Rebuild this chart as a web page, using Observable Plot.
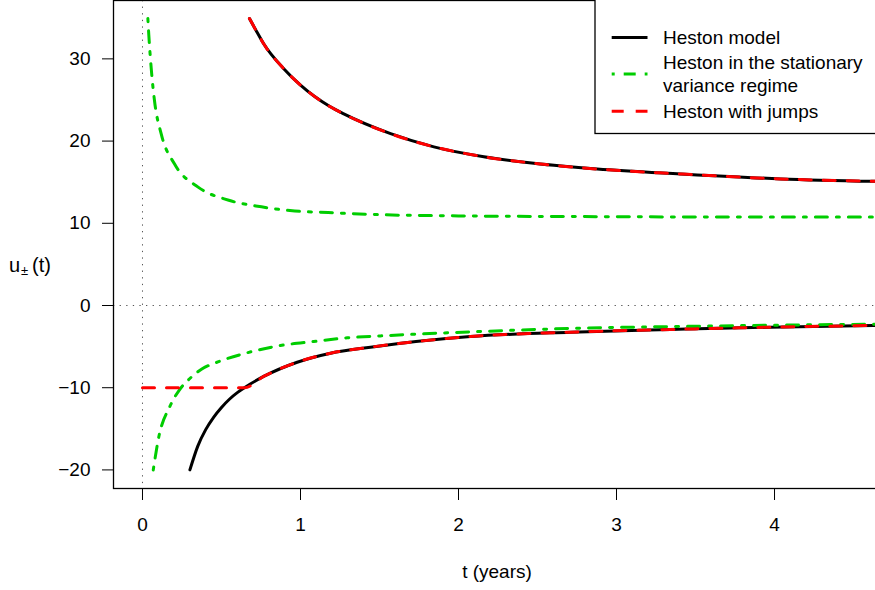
<!DOCTYPE html>
<html>
<head>
<meta charset="utf-8">
<script src="https://cdn.jsdelivr.net/npm/d3@7"></script>
<script src="https://cdn.jsdelivr.net/npm/@observablehq/plot@0.6"></script>
<style>
  html, body { margin: 0; padding: 0; background: white; overflow: hidden; }
</style>
</head>
<body>
<div id="chart"></div>
<script>
// Heston model, upper branch u+(t)
const tHestonUp = [0.677, 0.726, 0.768, 0.894, 1.0, 1.186, 1.274, 1.57, 1.844, 2.16, 2.477, 2.878, 3.405, 4.04, 4.64];
const uHestonUp = [34.9, 33.2, 31.8, 28.8, 26.8, 24.2, 23.3, 20.9, 19.3, 18.1, 17.3, 16.6, 16.0, 15.4, 15.1];
// Heston model, lower branch u-(t)
const tHestonLow = [0.30, 0.35, 0.40, 0.45, 0.50, 0.55, 0.60, 0.645, 0.77, 0.979, 1.19, 1.443, 2.076, 2.71, 3.34, 3.97, 4.64];
const uHestonLow = [-20, -17.1, -15.1, -13.6, -12.4, -11.4, -10.6, -10.0, -8.6, -6.9, -5.8, -5.07, -3.77, -3.24, -2.92, -2.64, -2.43];
// Heston in the stationary variance regime
const tStatUp = [0.034, 0.04, 0.055, 0.076, 0.118, 0.203, 0.352, 0.546, 0.753, 0.964, 1.175, 1.5, 2.0, 3.0, 4.0, 4.64];
const uStatUp = [34.9, 32.9, 28.9, 24.9, 20.9, 17.2, 14.4, 12.8, 12.0, 11.5, 11.3, 11.05, 10.9, 10.8, 10.75, 10.75];
const tStatLow = [0.068, 0.103, 0.173, 0.24, 0.293, 0.378, 0.473, 0.673, 0.873, 1.084, 1.296, 1.506, 2.14, 2.77, 3.405, 4.04, 4.64];
const uStatLow = [-20, -16.0, -12.3, -10.1, -9.0, -7.7, -6.9, -5.7, -4.87, -4.38, -3.93, -3.7, -3.16, -2.76, -2.55, -2.39, -2.27];
// Heston with jumps
const tJumpUp = [0.677, 0.726, 0.768, 0.894, 1.0, 1.186, 1.274, 1.57, 1.844, 2.16, 2.477, 2.878, 3.405, 4.04, 4.64];
const uJumpUp = [34.9, 33.2, 31.8, 28.8, 26.8, 24.2, 23.3, 20.9, 19.3, 18.1, 17.3, 16.6, 16.0, 15.4, 15.1];
const tJumpLow = [0.0, 0.645, 0.77, 0.979, 1.19, 1.443, 2.076, 2.71, 3.34, 3.97, 4.64];
const uJumpLow = [-10, -10.0, -8.6, -6.9, -5.8, -5.07, -3.77, -3.24, -2.92, -2.64, -2.43];

const xTicks = [0, 1, 2, 3, 4];
const yTicks = [-20, -10, 0, 10, 20, 30];
const seriesNames = ["Heston model", "Heston in the stationary\nvariance regime", "Heston with jumps"];
const xLabel = "t (years)";

const pts = (ts, us) => ts.map((t, i) => ({t, u: us[i]}));

const GREEN = "#00CD00", RED = "#FF0000";
const dashDot = "3,9,12,9";
const dashed = "12,12";

const lineOpts = {x: "t", y: "u", curve: "monotone-x", strokeWidth: 3};

const plot = Plot.plot({
  width: 896,
  height: 590,
  marginLeft: 113,
  marginRight: 0,
  marginTop: 0,
  marginBottom: 102,
  style: {fontFamily: "'Liberation Sans', Arial, sans-serif", fontSize: "19px", color: "black", background: "white", maxWidth: "none"},
  x: {domain: [-0.1835, 4.772], ticks: xTicks, tickFormat: d3.format("d"), tickSize: 12, tickPadding: 17, label: null},
  y: {domain: [-22.26, 37.1], ticks: yTicks, tickSize: 11, tickPadding: 12, label: null},
  marks: [
    Plot.ruleX([0], {stroke: "#555", strokeWidth: 1, strokeDasharray: "1.3,5.3"}),
    Plot.ruleY([0], {stroke: "#555", strokeWidth: 1, strokeDasharray: "1.3,5.3"}),
    Plot.line(pts(tHestonUp, uHestonUp), {...lineOpts, stroke: "black"}),
    Plot.line(pts(tHestonLow, uHestonLow), {...lineOpts, stroke: "black"}),
    Plot.line(pts(tStatUp, uStatUp), {...lineOpts, stroke: GREEN, strokeDasharray: dashDot}),
    Plot.line(pts(tStatLow, uStatLow), {...lineOpts, stroke: GREEN, strokeDasharray: dashDot}),
    Plot.line(pts(tJumpUp, uJumpUp), {...lineOpts, stroke: RED, strokeDasharray: dashed}),
    Plot.line(pts(tJumpLow, uJumpLow), {...lineOpts, stroke: RED, strokeDasharray: dashed}),
    Plot.frame({stroke: "black", strokeWidth: 1.3})
  ]
});

const svg = d3.select(plot);
const font = "'Liberation Sans', Arial, sans-serif";

// axis titles
svg.append("text").attr("x", 497).attr("y", 578).attr("text-anchor", "middle")
  .attr("font-family", font).attr("font-size", 19).attr("fill", "black").text(xLabel);
const yl = svg.append("g").attr("font-family", font).attr("fill", "black").attr("text-anchor", "start");
yl.append("text").attr("x", 9).attr("y", 271.5).attr("font-size", 20).text("u");
yl.append("text").attr("x", 21).attr("y", 275).attr("font-size", 13).text("±");
yl.append("text").attr("x", 32).attr("y", 271.5).attr("font-size", 20).text("(t)");

// legend
const lg = svg.append("g").attr("font-family", font).attr("font-size", 19).attr("fill", "black").attr("text-anchor", "start");
lg.append("rect").attr("x", 595).attr("y", -10).attr("width", 400).attr("height", 143.5)
  .attr("fill", "white").attr("stroke", "black").attr("stroke-width", 1.3);
const legendItems = [
  {color: "black", dash: null, ly: 37.5},
  {color: GREEN, dash: dashDot, ly: 74},
  {color: RED, dash: dashed, ly: 111.3}
];
legendItems.forEach(d => {
  const l = lg.append("line").attr("x1", 611.7).attr("x2", 647.5).attr("y1", d.ly).attr("y2", d.ly)
    .attr("stroke", d.color).attr("stroke-width", 3);
  if (d.dash) l.attr("stroke-dasharray", d.dash);
});
const legendLines = [seriesNames[0], ...seriesNames[1].split("\n"), seriesNames[2]];
const baselines = [44, 68.5, 92, 117.5];
legendLines.forEach((s, i) => {
  lg.append("text").attr("x", 663).attr("y", baselines[i]).text(s);
});

document.getElementById("chart").appendChild(plot);
</script>
</body>
</html>
